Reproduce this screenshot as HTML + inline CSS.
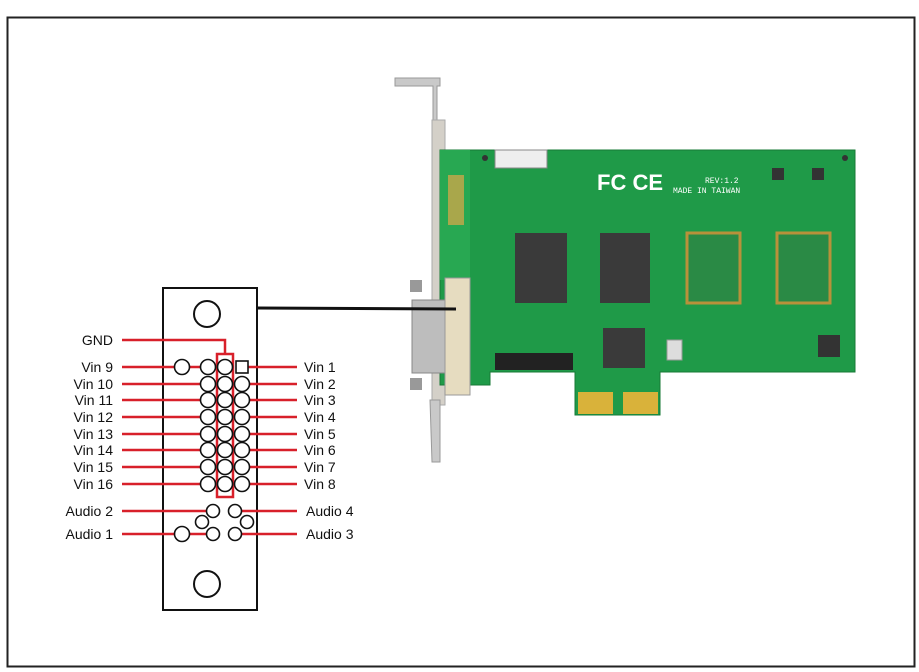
<!DOCTYPE html>
<html><head><meta charset="utf-8"><style>
html,body{margin:0;padding:0;background:#fff;}
svg{display:block;}
text{font-family:"Liberation Sans",sans-serif;font-size:14px;fill:#111;}
</style></head><body>
<svg width="919" height="672" viewBox="0 0 919 672" xmlns="http://www.w3.org/2000/svg">
<rect x="7.5" y="17.5" width="907" height="649" fill="none" stroke="#222" stroke-width="2"/>
<!-- bracket -->
<path d="M395 78 L440 78 L440 86 L437 86 L437 150 L433 150 L433 86 L395 86 Z" fill="#c9c9c9" stroke="#999"/>
<rect x="432" y="120" width="13" height="285" fill="#d4d0c8" stroke="#aaa"/>
<path d="M430 400 L440 400 L440 462 L432 462 Z" fill="#c9c9c9" stroke="#999"/>
<!-- PCB -->
<path d="M440 150 L855 150 L855 372 L660 372 L660 415 L575 415 L575 372 L490 372 L490 385 L440 385 Z" fill="#1f9a48" stroke="#177a36"/>
<rect x="440" y="150" width="30" height="130" fill="#28a852"/>
<rect x="448" y="175" width="16" height="50" fill="#c9a64a" opacity="0.8"/>
<rect x="578" y="392" width="35" height="22" fill="#d9b23a"/>
<rect x="623" y="392" width="35" height="22" fill="#d9b23a"/>
<rect x="495" y="150" width="52" height="18" fill="#eee" stroke="#888"/>
<text x="597" y="190" style="font-size:22px;font-weight:bold;fill:#fff">FC CE</text>
<text x="705" y="183" style="font-size:8px;fill:#fff;font-family:'Liberation Mono',monospace">REV:1.2</text>
<text x="673" y="193" style="font-size:8px;fill:#fff;font-family:'Liberation Mono',monospace">MADE IN TAIWAN</text>
<rect x="515" y="233" width="52" height="70" fill="#3a3a3a"/>
<rect x="600" y="233" width="50" height="70" fill="#3a3a3a"/>
<rect x="687" y="233" width="53" height="70" fill="#2a8a45" stroke="#b8913a" stroke-width="3"/>
<rect x="777" y="233" width="53" height="70" fill="#2a8a45" stroke="#b8913a" stroke-width="3"/>
<rect x="603" y="328" width="42" height="40" fill="#3a3a3a"/>
<rect x="495" y="353" width="78" height="17" fill="#222"/>
<rect x="818" y="335" width="22" height="22" fill="#333"/>
<rect x="667" y="340" width="15" height="20" fill="#ddd" stroke="#999"/>
<rect x="772" y="168" width="12" height="12" fill="#333"/>
<rect x="812" y="168" width="12" height="12" fill="#333"/>
<circle cx="485" cy="158" r="3" fill="#333"/><circle cx="845" cy="158" r="3" fill="#333"/>
<!-- DVI -->
<rect x="412" y="300" width="33" height="73" fill="#bdbdbd" stroke="#888"/>
<rect x="445" y="278" width="25" height="117" fill="#e6dcc0" stroke="#999"/>
<rect x="410" y="280" width="12" height="12" fill="#999"/>
<rect x="410" y="378" width="12" height="12" fill="#999"/>
<!-- cable -->
<line x1="257" y1="308" x2="456" y2="309" stroke="#111" stroke-width="3"/>
<!-- plate -->
<rect x="163" y="288" width="94" height="322" fill="#fff" stroke="#111" stroke-width="2"/>
<circle cx="207" cy="314" r="13" fill="none" stroke="#111" stroke-width="2"/>
<circle cx="207" cy="584" r="13" fill="none" stroke="#111" stroke-width="2"/>
<g stroke="#d8202a" stroke-width="2.5" fill="none">
<polyline points="122,340 225,340 225,354"/>
<rect x="217" y="354" width="16" height="143"/>
<line x1="122" y1="367" x2="208" y2="367"/><line x1="122" y1="384" x2="208" y2="384"/>
<line x1="122" y1="400" x2="208" y2="400"/><line x1="122" y1="417" x2="208" y2="417"/>
<line x1="122" y1="434" x2="208" y2="434"/><line x1="122" y1="450" x2="208" y2="450"/>
<line x1="122" y1="467" x2="208" y2="467"/><line x1="122" y1="484" x2="208" y2="484"/>
<line x1="242" y1="367" x2="297" y2="367"/><line x1="242" y1="384" x2="297" y2="384"/>
<line x1="242" y1="400" x2="297" y2="400"/><line x1="242" y1="417" x2="297" y2="417"/>
<line x1="242" y1="434" x2="297" y2="434"/><line x1="242" y1="450" x2="297" y2="450"/>
<line x1="242" y1="467" x2="297" y2="467"/><line x1="242" y1="484" x2="297" y2="484"/>
<line x1="122" y1="511" x2="213" y2="511"/><line x1="122" y1="534" x2="213" y2="534"/>
<line x1="235" y1="511" x2="297" y2="511"/><line x1="235" y1="534" x2="297" y2="534"/>
</g>
<g fill="#fff" stroke="#111" stroke-width="1.6">
<circle cx="182" cy="367" r="7.5"/>
<circle cx="208" cy="367" r="7.5"/><circle cx="225" cy="367" r="7.5"/><rect x="236" y="361" width="12" height="12"/>
<circle cx="208" cy="384" r="7.5"/><circle cx="225" cy="384" r="7.5"/><circle cx="242" cy="384" r="7.5"/>
<circle cx="208" cy="400" r="7.5"/><circle cx="225" cy="400" r="7.5"/><circle cx="242" cy="400" r="7.5"/>
<circle cx="208" cy="417" r="7.5"/><circle cx="225" cy="417" r="7.5"/><circle cx="242" cy="417" r="7.5"/>
<circle cx="208" cy="434" r="7.5"/><circle cx="225" cy="434" r="7.5"/><circle cx="242" cy="434" r="7.5"/>
<circle cx="208" cy="450" r="7.5"/><circle cx="225" cy="450" r="7.5"/><circle cx="242" cy="450" r="7.5"/>
<circle cx="208" cy="467" r="7.5"/><circle cx="225" cy="467" r="7.5"/><circle cx="242" cy="467" r="7.5"/>
<circle cx="208" cy="484" r="7.5"/><circle cx="225" cy="484" r="7.5"/><circle cx="242" cy="484" r="7.5"/>
<circle cx="213" cy="511" r="6.5"/><circle cx="202" cy="522" r="6.5"/><circle cx="213" cy="534" r="6.5"/><circle cx="182" cy="534" r="7.5"/>
<circle cx="235" cy="511" r="6.5"/><circle cx="247" cy="522" r="6.5"/><circle cx="235" cy="534" r="6.5"/>
</g>
<g text-anchor="end">
<text x="113" y="345">GND</text>
<text x="113" y="372">Vin 9</text><text x="113" y="389">Vin 10</text><text x="113" y="405">Vin 11</text>
<text x="113" y="422">Vin 12</text><text x="113" y="439">Vin 13</text><text x="113" y="455">Vin 14</text>
<text x="113" y="472">Vin 15</text><text x="113" y="489">Vin 16</text>
<text x="113" y="516">Audio 2</text><text x="113" y="539">Audio 1</text>
</g>
<g>
<text x="304" y="372">Vin 1</text><text x="304" y="389">Vin 2</text><text x="304" y="405">Vin 3</text>
<text x="304" y="422">Vin 4</text><text x="304" y="439">Vin 5</text><text x="304" y="455">Vin 6</text>
<text x="304" y="472">Vin 7</text><text x="304" y="489">Vin 8</text>
<text x="306" y="516">Audio 4</text><text x="306" y="539">Audio 3</text>
</g>
</svg>
</body></html>
